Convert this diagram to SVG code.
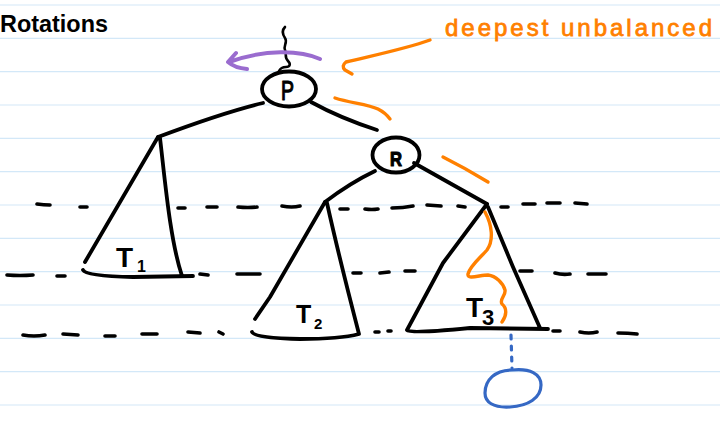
<svg xmlns="http://www.w3.org/2000/svg" width="720" height="423" viewBox="0 0 720 423">
<style>
.rule{stroke:#d3e8f8;stroke-width:1.2}
.ink{fill:none;stroke:#000;stroke-width:3.8;stroke-linecap:round;stroke-linejoin:round}
.thin{fill:none;stroke:#000;stroke-width:2.6;stroke-linecap:round;stroke-linejoin:round}
.dash{fill:none;stroke:#000;stroke-width:3.6;stroke-linecap:round}
.orange{fill:none;stroke:#ff8000;stroke-width:3.4;stroke-linecap:round;stroke-linejoin:round}
.purple{fill:none;stroke:#9a6ccf;stroke-width:4;stroke-linecap:round;stroke-linejoin:round}
.blue{fill:none;stroke:#3568c4;stroke-width:3.2;stroke-linecap:round;stroke-linejoin:round}
.lbl{font-family:"Liberation Sans",Arial,sans-serif;fill:#000}
.hand{stroke:#000;stroke-width:1.2;stroke-linejoin:round}
</style>
<rect width="720" height="423" fill="#fff"/>
<g id="rules">
<line class="rule" x1="0" y1="5" x2="720" y2="5"/>
<line class="rule" x1="0" y1="38.3" x2="720" y2="38.3"/>
<line class="rule" x1="0" y1="71.7" x2="720" y2="71.7"/>
<line class="rule" x1="0" y1="105" x2="720" y2="105"/>
<line class="rule" x1="0" y1="138.3" x2="720" y2="138.3"/>
<line class="rule" x1="0" y1="171.7" x2="720" y2="171.7"/>
<line class="rule" x1="0" y1="205" x2="720" y2="205"/>
<line class="rule" x1="0" y1="238.3" x2="720" y2="238.3"/>
<line class="rule" x1="0" y1="271.7" x2="720" y2="271.7"/>
<line class="rule" x1="0" y1="305" x2="720" y2="305"/>
<line class="rule" x1="0" y1="338.3" x2="720" y2="338.3"/>
<line class="rule" x1="0" y1="371.7" x2="720" y2="371.7"/>
<line class="rule" x1="0" y1="405" x2="720" y2="405"/>
</g>
<text x="0" y="31.5" class="lbl" font-size="24" font-weight="bold" textLength="108" lengthAdjust="spacingAndGlyphs">Rotations</text>

<g id="levels">
<path class="dash" d="M37,204 Q44,205 50,205 M80,207 L87,207 M178,208 L185,208 M207,207 L217,207 M238,207 Q248,208 257,207 M282,206 Q292,208 300,206 M340,209 L348,209 M365,209 Q372,210 378,209 M392,208 Q403,208 413,206 M427,205 L441,206 M458,206 L465,207 M501,207 L508,207 M523,204 L535,204 M547,203 L560,203 M575,203 L587,204"/>
<path class="dash" d="M7,275 Q20,276 33,275 M57,276 L65,276 M200,274 L208,275 M237,274 L260,274 M353,273 L361,273 M380,273 L389,272 M405,271 L415,271 M520,271 L532,271 M555,273 Q562,275 570,274 M588,274 L606,274"/>
<path class="dash" d="M23,335 Q34,337 45,335 M63,334 L78,335 M105,336 L115,336 M142,334 L157,334 M188,332 L200,333 M219,332 L223,334 M375,332 L379,332 M388,331 L391,331 M553,331 L560,331 M580,332 Q589,334 597,332 M618,333 Q628,333 637,334"/>
</g>

<g id="connectors">
<path id="P-T1" class="ink" d="M263,103 Q225,112 158,137"/>
<path id="P-R" class="ink" d="M311,102 Q340,118 377,130"/>
<path id="R-T2" class="ink" d="M375,171 Q350,183 325,202"/>
<path id="R-T3" class="ink" d="M414,163 L487,204"/>
<path id="T3-new" class="blue" stroke-dasharray="4 7" d="M511,335 L512,368"/>
</g>

<g id="node-P">
<path class="thin" d="M285,27 C281,31 283,35 285,38 C288,42 283,46 285,50 C287,54 284,57 288,61 C291,64 290,67 286,67 C282,67 280,69 279,71"/>
<ellipse class="ink" cx="289" cy="89" rx="27" ry="17.5"/>
<text x="281" y="100" class="lbl hand" font-size="28" textLength="13" lengthAdjust="spacingAndGlyphs">P</text>
</g>

<g id="node-R">
<ellipse class="ink" cx="396" cy="155" rx="23.5" ry="17.5"/>
<text x="390" y="166" class="lbl hand" font-size="20" font-weight="bold" stroke-width="0.8" textLength="12" lengthAdjust="spacingAndGlyphs">R</text>
</g>

<g id="node-T1">
<path class="ink" d="M158,137 L85,262 M160,138 C165,180 170,240 182,276 M83,270 Q86,276 133,277 L193,276"/>
<text x="116" y="267" class="lbl" font-size="28" font-weight="bold">T<tspan x="137" y="272" font-size="16">1</tspan></text>
</g>

<g id="node-T2">
<path class="ink" d="M325,202 L270,297 L255,319 M327,203 C333,230 345,280 359,334 M252,332 Q254,338 300,339 Q340,339 359,334"/>
<text x="296" y="323" class="lbl" font-size="25" font-weight="bold">T<tspan x="314" y="329" font-size="15">2</tspan></text>
</g>

<g id="node-T3">
<path class="ink" d="M487,204 L443,263 L407,330 M488,207 L513,267 L540,328 M407,330 Q410,334 470,328 L548,329"/>
<text x="466" y="317" class="lbl" font-size="28" font-weight="bold">T<tspan x="482" y="325" font-size="22">3</tspan></text>
</g>

<g id="node-new">
<path class="blue" d="M512,370 C530,368 541,374 541,385 C541,398 528,406 510,407 C493,408 485,402 485,393 C485,380 495,370 512,370 Z"/>
</g>

<g id="annotations">
<path class="purple" d="M320,59 C300,50 265,49 229,62 M236,53 L228,62 Q235,68 247,69"/>
<path class="orange" d="M430,40 C405,49 375,55 346,62 Q341,66 345,70 L352,74"/>
<text x="445" y="36" font-family="Liberation Sans,Arial,sans-serif" font-size="24" fill="#ff8000" stroke="#ff8000" stroke-width="0.8" textLength="267" lengthAdjust="spacing">deepest unbalanced</text>
<path class="orange" d="M335,98 C350,103 368,104 378,109 C384,112 387,115 390,119"/>
<path class="orange" d="M443,157 Q465,168 488,182"/>
<path class="orange" d="M485,212 C492,225 494,240 487,250 C480,258 470,266 468,274 C467,280 480,275 488,275 C496,276 503,283 505,290 C506,296 499,299 502,304 C507,308 507,315 502,322"/>
</g>
</svg>
